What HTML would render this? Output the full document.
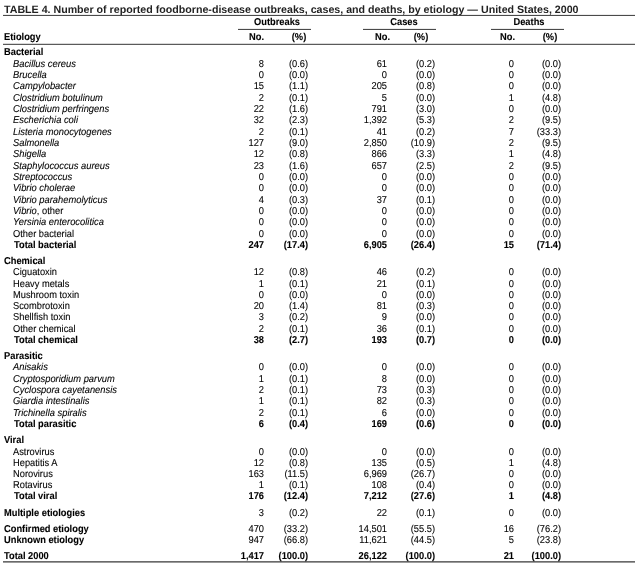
<!DOCTYPE html>
<html><head><meta charset="utf-8"><style>
html,body{margin:0;padding:0;background:#fff;width:640px;height:573px;overflow:hidden;position:relative}
body{font-family:"Liberation Sans",sans-serif;color:#000}
.t{position:absolute;z-index:2;white-space:nowrap;font-size:10.0px;line-height:10.0px;height:10.0px;transform:scaleX(0.93);transform-origin:0 0;text-rendering:geometricPrecision;-webkit-text-stroke:0.1px #000}
.n{transform-origin:100% 0}
.c{transform-origin:50% 0}
.n{text-align:right}
.bd{font-weight:bold;transform:scaleX(0.9300)}
.it{transform:scaleX(0.9350)}
.ln{position:absolute;background:#4a4a4a;height:1px}
.lf{position:absolute;background:#ececec;height:1px}
#w{position:absolute;left:0;top:0;width:640px;height:573px;will-change:transform}
</style></head><body><div id="w">

<div class="t bd" style="left:4px;top:4.58px;font-size:10.65px;line-height:10.65px;transform:none;-webkit-text-stroke:0;color:#222">TABLE 4. Number of reported foodborne-disease outbreaks, cases, and deaths, by etiology — United States, 2000</div>
<div class="lf" style="left:3px;top:14px;width:632px"></div>
<div class="ln" style="left:3px;top:15px;width:632px"></div>
<div class="t bd c" style="left:226.80px;width:100px;text-align:center;top:18.00px">Outbreaks</div>
<div class="t bd c" style="left:354.00px;width:100px;text-align:center;top:18.00px">Cases</div>
<div class="t bd c" style="left:479.20px;width:100px;text-align:center;top:18.00px">Deaths</div>
<div class="lf" style="left:238px;top:28px;width:73px"></div>
<div class="ln" style="left:238px;top:29px;width:73px"></div>
<div class="lf" style="left:363px;top:28px;width:73px"></div>
<div class="ln" style="left:363px;top:29px;width:73px"></div>
<div class="lf" style="left:491px;top:28px;width:73px"></div>
<div class="ln" style="left:491px;top:29px;width:73px"></div>
<div class="t bd" style="left:4px;top:33.00px">Etiology</div>
<div class="t bd n" style="left:204.30px;width:60px;top:33.00px">No.</div>
<div class="t bd n" style="left:330.00px;width:60px;top:33.00px">No.</div>
<div class="t bd n" style="left:455.30px;width:60px;top:33.00px">No.</div>
<div class="t bd c" style="left:268.50px;width:60px;text-align:center;top:33.00px">(%)</div>
<div class="t bd c" style="left:391.40px;width:60px;text-align:center;top:33.00px">(%)</div>
<div class="t bd c" style="left:520.30px;width:60px;text-align:center;top:33.00px">(%)</div>
<div class="lf" style="left:3px;top:43px;width:632px;background:#d8d8d8"></div>
<div class="ln" style="left:3px;top:44px;width:632px;background:#5a5a5a"></div>
<div class="t bd" style="left:4px;top:48.00px">Bacterial</div>
<div class="t it" style="left:13px;top:59.70px"><i>Bacillus cereus</i></div>
<div class="t n" style="left:184.30px;width:80px;top:59.70px">8</div>
<div class="t n" style="left:227.50px;width:80px;top:59.70px">(0.6)</div>
<div class="t n" style="left:307.00px;width:80px;top:59.70px">61</div>
<div class="t n" style="left:355.00px;width:80px;top:59.70px">(0.2)</div>
<div class="t n" style="left:434.00px;width:80px;top:59.70px">0</div>
<div class="t n" style="left:481.20px;width:80px;top:59.70px">(0.0)</div>
<div class="t it" style="left:13px;top:71.03px"><i>Brucella</i></div>
<div class="t n" style="left:184.30px;width:80px;top:71.03px">0</div>
<div class="t n" style="left:227.50px;width:80px;top:71.03px">(0.0)</div>
<div class="t n" style="left:307.00px;width:80px;top:71.03px">0</div>
<div class="t n" style="left:355.00px;width:80px;top:71.03px">(0.0)</div>
<div class="t n" style="left:434.00px;width:80px;top:71.03px">0</div>
<div class="t n" style="left:481.20px;width:80px;top:71.03px">(0.0)</div>
<div class="t it" style="left:13px;top:82.36px"><i>Campylobacter</i></div>
<div class="t n" style="left:184.30px;width:80px;top:82.36px">15</div>
<div class="t n" style="left:227.50px;width:80px;top:82.36px">(1.1)</div>
<div class="t n" style="left:307.00px;width:80px;top:82.36px">205</div>
<div class="t n" style="left:355.00px;width:80px;top:82.36px">(0.8)</div>
<div class="t n" style="left:434.00px;width:80px;top:82.36px">0</div>
<div class="t n" style="left:481.20px;width:80px;top:82.36px">(0.0)</div>
<div class="t it" style="left:13px;top:93.69px"><i>Clostridium botulinum</i></div>
<div class="t n" style="left:184.30px;width:80px;top:93.69px">2</div>
<div class="t n" style="left:227.50px;width:80px;top:93.69px">(0.1)</div>
<div class="t n" style="left:307.00px;width:80px;top:93.69px">5</div>
<div class="t n" style="left:355.00px;width:80px;top:93.69px">(0.0)</div>
<div class="t n" style="left:434.00px;width:80px;top:93.69px">1</div>
<div class="t n" style="left:481.20px;width:80px;top:93.69px">(4.8)</div>
<div class="t it" style="left:13px;top:105.02px"><i>Clostridium perfringens</i></div>
<div class="t n" style="left:184.30px;width:80px;top:105.02px">22</div>
<div class="t n" style="left:227.50px;width:80px;top:105.02px">(1.6)</div>
<div class="t n" style="left:307.00px;width:80px;top:105.02px">791</div>
<div class="t n" style="left:355.00px;width:80px;top:105.02px">(3.0)</div>
<div class="t n" style="left:434.00px;width:80px;top:105.02px">0</div>
<div class="t n" style="left:481.20px;width:80px;top:105.02px">(0.0)</div>
<div class="t it" style="left:13px;top:116.35px"><i>Escherichia coli</i></div>
<div class="t n" style="left:184.30px;width:80px;top:116.35px">32</div>
<div class="t n" style="left:227.50px;width:80px;top:116.35px">(2.3)</div>
<div class="t n" style="left:307.00px;width:80px;top:116.35px">1,392</div>
<div class="t n" style="left:355.00px;width:80px;top:116.35px">(5.3)</div>
<div class="t n" style="left:434.00px;width:80px;top:116.35px">2</div>
<div class="t n" style="left:481.20px;width:80px;top:116.35px">(9.5)</div>
<div class="t it" style="left:13px;top:127.68px"><i>Listeria monocytogenes</i></div>
<div class="t n" style="left:184.30px;width:80px;top:127.68px">2</div>
<div class="t n" style="left:227.50px;width:80px;top:127.68px">(0.1)</div>
<div class="t n" style="left:307.00px;width:80px;top:127.68px">41</div>
<div class="t n" style="left:355.00px;width:80px;top:127.68px">(0.2)</div>
<div class="t n" style="left:434.00px;width:80px;top:127.68px">7</div>
<div class="t n" style="left:481.20px;width:80px;top:127.68px">(33.3)</div>
<div class="t it" style="left:13px;top:139.01px"><i>Salmonella</i></div>
<div class="t n" style="left:184.30px;width:80px;top:139.01px">127</div>
<div class="t n" style="left:227.50px;width:80px;top:139.01px">(9.0)</div>
<div class="t n" style="left:307.00px;width:80px;top:139.01px">2,850</div>
<div class="t n" style="left:355.00px;width:80px;top:139.01px">(10.9)</div>
<div class="t n" style="left:434.00px;width:80px;top:139.01px">2</div>
<div class="t n" style="left:481.20px;width:80px;top:139.01px">(9.5)</div>
<div class="t it" style="left:13px;top:150.34px"><i>Shigella</i></div>
<div class="t n" style="left:184.30px;width:80px;top:150.34px">12</div>
<div class="t n" style="left:227.50px;width:80px;top:150.34px">(0.8)</div>
<div class="t n" style="left:307.00px;width:80px;top:150.34px">866</div>
<div class="t n" style="left:355.00px;width:80px;top:150.34px">(3.3)</div>
<div class="t n" style="left:434.00px;width:80px;top:150.34px">1</div>
<div class="t n" style="left:481.20px;width:80px;top:150.34px">(4.8)</div>
<div class="t it" style="left:13px;top:161.67px"><i>Staphylococcus aureus</i></div>
<div class="t n" style="left:184.30px;width:80px;top:161.67px">23</div>
<div class="t n" style="left:227.50px;width:80px;top:161.67px">(1.6)</div>
<div class="t n" style="left:307.00px;width:80px;top:161.67px">657</div>
<div class="t n" style="left:355.00px;width:80px;top:161.67px">(2.5)</div>
<div class="t n" style="left:434.00px;width:80px;top:161.67px">2</div>
<div class="t n" style="left:481.20px;width:80px;top:161.67px">(9.5)</div>
<div class="t it" style="left:13px;top:173.00px"><i>Streptococcus</i></div>
<div class="t n" style="left:184.30px;width:80px;top:173.00px">0</div>
<div class="t n" style="left:227.50px;width:80px;top:173.00px">(0.0)</div>
<div class="t n" style="left:307.00px;width:80px;top:173.00px">0</div>
<div class="t n" style="left:355.00px;width:80px;top:173.00px">(0.0)</div>
<div class="t n" style="left:434.00px;width:80px;top:173.00px">0</div>
<div class="t n" style="left:481.20px;width:80px;top:173.00px">(0.0)</div>
<div class="t it" style="left:13px;top:184.33px"><i>Vibrio cholerae</i></div>
<div class="t n" style="left:184.30px;width:80px;top:184.33px">0</div>
<div class="t n" style="left:227.50px;width:80px;top:184.33px">(0.0)</div>
<div class="t n" style="left:307.00px;width:80px;top:184.33px">0</div>
<div class="t n" style="left:355.00px;width:80px;top:184.33px">(0.0)</div>
<div class="t n" style="left:434.00px;width:80px;top:184.33px">0</div>
<div class="t n" style="left:481.20px;width:80px;top:184.33px">(0.0)</div>
<div class="t it" style="left:13px;top:195.66px"><i>Vibrio parahemolyticus</i></div>
<div class="t n" style="left:184.30px;width:80px;top:195.66px">4</div>
<div class="t n" style="left:227.50px;width:80px;top:195.66px">(0.3)</div>
<div class="t n" style="left:307.00px;width:80px;top:195.66px">37</div>
<div class="t n" style="left:355.00px;width:80px;top:195.66px">(0.1)</div>
<div class="t n" style="left:434.00px;width:80px;top:195.66px">0</div>
<div class="t n" style="left:481.20px;width:80px;top:195.66px">(0.0)</div>
<div class="t it" style="left:13px;top:206.99px"><i>Vibrio</i>, other</div>
<div class="t n" style="left:184.30px;width:80px;top:206.99px">0</div>
<div class="t n" style="left:227.50px;width:80px;top:206.99px">(0.0)</div>
<div class="t n" style="left:307.00px;width:80px;top:206.99px">0</div>
<div class="t n" style="left:355.00px;width:80px;top:206.99px">(0.0)</div>
<div class="t n" style="left:434.00px;width:80px;top:206.99px">0</div>
<div class="t n" style="left:481.20px;width:80px;top:206.99px">(0.0)</div>
<div class="t it" style="left:13px;top:218.32px"><i>Yersinia enterocolitica</i></div>
<div class="t n" style="left:184.30px;width:80px;top:218.32px">0</div>
<div class="t n" style="left:227.50px;width:80px;top:218.32px">(0.0)</div>
<div class="t n" style="left:307.00px;width:80px;top:218.32px">0</div>
<div class="t n" style="left:355.00px;width:80px;top:218.32px">(0.0)</div>
<div class="t n" style="left:434.00px;width:80px;top:218.32px">0</div>
<div class="t n" style="left:481.20px;width:80px;top:218.32px">(0.0)</div>
<div class="t" style="left:13px;top:229.65px">Other bacterial</div>
<div class="t n" style="left:184.30px;width:80px;top:229.65px">0</div>
<div class="t n" style="left:227.50px;width:80px;top:229.65px">(0.0)</div>
<div class="t n" style="left:307.00px;width:80px;top:229.65px">0</div>
<div class="t n" style="left:355.00px;width:80px;top:229.65px">(0.0)</div>
<div class="t n" style="left:434.00px;width:80px;top:229.65px">0</div>
<div class="t n" style="left:481.20px;width:80px;top:229.65px">(0.0)</div>
<div class="t bd" style="left:13.5px;top:240.98px">Total bacterial</div>
<div class="t n bd" style="left:184.30px;width:80px;top:240.98px">247</div>
<div class="t n bd" style="left:227.50px;width:80px;top:240.98px">(17.4)</div>
<div class="t n bd" style="left:307.00px;width:80px;top:240.98px">6,905</div>
<div class="t n bd" style="left:355.00px;width:80px;top:240.98px">(26.4)</div>
<div class="t n bd" style="left:434.00px;width:80px;top:240.98px">15</div>
<div class="t n bd" style="left:481.20px;width:80px;top:240.98px">(71.4)</div>
<div class="t bd" style="left:4px;top:257.00px">Chemical</div>
<div class="t" style="left:13px;top:268.30px">Ciguatoxin</div>
<div class="t n" style="left:184.30px;width:80px;top:268.30px">12</div>
<div class="t n" style="left:227.50px;width:80px;top:268.30px">(0.8)</div>
<div class="t n" style="left:307.00px;width:80px;top:268.30px">46</div>
<div class="t n" style="left:355.00px;width:80px;top:268.30px">(0.2)</div>
<div class="t n" style="left:434.00px;width:80px;top:268.30px">0</div>
<div class="t n" style="left:481.20px;width:80px;top:268.30px">(0.0)</div>
<div class="t" style="left:13px;top:279.59px">Heavy metals</div>
<div class="t n" style="left:184.30px;width:80px;top:279.59px">1</div>
<div class="t n" style="left:227.50px;width:80px;top:279.59px">(0.1)</div>
<div class="t n" style="left:307.00px;width:80px;top:279.59px">21</div>
<div class="t n" style="left:355.00px;width:80px;top:279.59px">(0.1)</div>
<div class="t n" style="left:434.00px;width:80px;top:279.59px">0</div>
<div class="t n" style="left:481.20px;width:80px;top:279.59px">(0.0)</div>
<div class="t" style="left:13px;top:290.88px">Mushroom toxin</div>
<div class="t n" style="left:184.30px;width:80px;top:290.88px">0</div>
<div class="t n" style="left:227.50px;width:80px;top:290.88px">(0.0)</div>
<div class="t n" style="left:307.00px;width:80px;top:290.88px">0</div>
<div class="t n" style="left:355.00px;width:80px;top:290.88px">(0.0)</div>
<div class="t n" style="left:434.00px;width:80px;top:290.88px">0</div>
<div class="t n" style="left:481.20px;width:80px;top:290.88px">(0.0)</div>
<div class="t" style="left:13px;top:302.17px">Scombrotoxin</div>
<div class="t n" style="left:184.30px;width:80px;top:302.17px">20</div>
<div class="t n" style="left:227.50px;width:80px;top:302.17px">(1.4)</div>
<div class="t n" style="left:307.00px;width:80px;top:302.17px">81</div>
<div class="t n" style="left:355.00px;width:80px;top:302.17px">(0.3)</div>
<div class="t n" style="left:434.00px;width:80px;top:302.17px">0</div>
<div class="t n" style="left:481.20px;width:80px;top:302.17px">(0.0)</div>
<div class="t" style="left:13px;top:313.46px">Shellfish toxin</div>
<div class="t n" style="left:184.30px;width:80px;top:313.46px">3</div>
<div class="t n" style="left:227.50px;width:80px;top:313.46px">(0.2)</div>
<div class="t n" style="left:307.00px;width:80px;top:313.46px">9</div>
<div class="t n" style="left:355.00px;width:80px;top:313.46px">(0.0)</div>
<div class="t n" style="left:434.00px;width:80px;top:313.46px">0</div>
<div class="t n" style="left:481.20px;width:80px;top:313.46px">(0.0)</div>
<div class="t" style="left:13px;top:324.75px">Other chemical</div>
<div class="t n" style="left:184.30px;width:80px;top:324.75px">2</div>
<div class="t n" style="left:227.50px;width:80px;top:324.75px">(0.1)</div>
<div class="t n" style="left:307.00px;width:80px;top:324.75px">36</div>
<div class="t n" style="left:355.00px;width:80px;top:324.75px">(0.1)</div>
<div class="t n" style="left:434.00px;width:80px;top:324.75px">0</div>
<div class="t n" style="left:481.20px;width:80px;top:324.75px">(0.0)</div>
<div class="t bd" style="left:13.5px;top:336.04px">Total chemical</div>
<div class="t n bd" style="left:184.30px;width:80px;top:336.04px">38</div>
<div class="t n bd" style="left:227.50px;width:80px;top:336.04px">(2.7)</div>
<div class="t n bd" style="left:307.00px;width:80px;top:336.04px">193</div>
<div class="t n bd" style="left:355.00px;width:80px;top:336.04px">(0.7)</div>
<div class="t n bd" style="left:434.00px;width:80px;top:336.04px">0</div>
<div class="t n bd" style="left:481.20px;width:80px;top:336.04px">(0.0)</div>
<div class="t bd" style="left:4px;top:352.00px">Parasitic</div>
<div class="t it" style="left:13px;top:363.30px"><i>Anisakis</i></div>
<div class="t n" style="left:184.30px;width:80px;top:363.30px">0</div>
<div class="t n" style="left:227.50px;width:80px;top:363.30px">(0.0)</div>
<div class="t n" style="left:307.00px;width:80px;top:363.30px">0</div>
<div class="t n" style="left:355.00px;width:80px;top:363.30px">(0.0)</div>
<div class="t n" style="left:434.00px;width:80px;top:363.30px">0</div>
<div class="t n" style="left:481.20px;width:80px;top:363.30px">(0.0)</div>
<div class="t it" style="left:13px;top:374.63px"><i>Cryptosporidium parvum</i></div>
<div class="t n" style="left:184.30px;width:80px;top:374.63px">1</div>
<div class="t n" style="left:227.50px;width:80px;top:374.63px">(0.1)</div>
<div class="t n" style="left:307.00px;width:80px;top:374.63px">8</div>
<div class="t n" style="left:355.00px;width:80px;top:374.63px">(0.0)</div>
<div class="t n" style="left:434.00px;width:80px;top:374.63px">0</div>
<div class="t n" style="left:481.20px;width:80px;top:374.63px">(0.0)</div>
<div class="t it" style="left:13px;top:385.96px"><i>Cyclospora cayetanensis</i></div>
<div class="t n" style="left:184.30px;width:80px;top:385.96px">2</div>
<div class="t n" style="left:227.50px;width:80px;top:385.96px">(0.1)</div>
<div class="t n" style="left:307.00px;width:80px;top:385.96px">73</div>
<div class="t n" style="left:355.00px;width:80px;top:385.96px">(0.3)</div>
<div class="t n" style="left:434.00px;width:80px;top:385.96px">0</div>
<div class="t n" style="left:481.20px;width:80px;top:385.96px">(0.0)</div>
<div class="t it" style="left:13px;top:397.29px"><i>Giardia intestinalis</i></div>
<div class="t n" style="left:184.30px;width:80px;top:397.29px">1</div>
<div class="t n" style="left:227.50px;width:80px;top:397.29px">(0.1)</div>
<div class="t n" style="left:307.00px;width:80px;top:397.29px">82</div>
<div class="t n" style="left:355.00px;width:80px;top:397.29px">(0.3)</div>
<div class="t n" style="left:434.00px;width:80px;top:397.29px">0</div>
<div class="t n" style="left:481.20px;width:80px;top:397.29px">(0.0)</div>
<div class="t it" style="left:13px;top:408.62px"><i>Trichinella spiralis</i></div>
<div class="t n" style="left:184.30px;width:80px;top:408.62px">2</div>
<div class="t n" style="left:227.50px;width:80px;top:408.62px">(0.1)</div>
<div class="t n" style="left:307.00px;width:80px;top:408.62px">6</div>
<div class="t n" style="left:355.00px;width:80px;top:408.62px">(0.0)</div>
<div class="t n" style="left:434.00px;width:80px;top:408.62px">0</div>
<div class="t n" style="left:481.20px;width:80px;top:408.62px">(0.0)</div>
<div class="t bd" style="left:13.5px;top:419.95px">Total parasitic</div>
<div class="t n bd" style="left:184.30px;width:80px;top:419.95px">6</div>
<div class="t n bd" style="left:227.50px;width:80px;top:419.95px">(0.4)</div>
<div class="t n bd" style="left:307.00px;width:80px;top:419.95px">169</div>
<div class="t n bd" style="left:355.00px;width:80px;top:419.95px">(0.6)</div>
<div class="t n bd" style="left:434.00px;width:80px;top:419.95px">0</div>
<div class="t n bd" style="left:481.20px;width:80px;top:419.95px">(0.0)</div>
<div class="t bd" style="left:4px;top:436.00px">Viral</div>
<div class="t" style="left:13px;top:447.90px">Astrovirus</div>
<div class="t n" style="left:184.30px;width:80px;top:447.90px">0</div>
<div class="t n" style="left:227.50px;width:80px;top:447.90px">(0.0)</div>
<div class="t n" style="left:307.00px;width:80px;top:447.90px">0</div>
<div class="t n" style="left:355.00px;width:80px;top:447.90px">(0.0)</div>
<div class="t n" style="left:434.00px;width:80px;top:447.90px">0</div>
<div class="t n" style="left:481.20px;width:80px;top:447.90px">(0.0)</div>
<div class="t" style="left:13px;top:458.95px">Hepatitis A</div>
<div class="t n" style="left:184.30px;width:80px;top:458.95px">12</div>
<div class="t n" style="left:227.50px;width:80px;top:458.95px">(0.8)</div>
<div class="t n" style="left:307.00px;width:80px;top:458.95px">135</div>
<div class="t n" style="left:355.00px;width:80px;top:458.95px">(0.5)</div>
<div class="t n" style="left:434.00px;width:80px;top:458.95px">1</div>
<div class="t n" style="left:481.20px;width:80px;top:458.95px">(4.8)</div>
<div class="t" style="left:13px;top:470.00px">Norovirus</div>
<div class="t n" style="left:184.30px;width:80px;top:470.00px">163</div>
<div class="t n" style="left:227.50px;width:80px;top:470.00px">(11.5)</div>
<div class="t n" style="left:307.00px;width:80px;top:470.00px">6,969</div>
<div class="t n" style="left:355.00px;width:80px;top:470.00px">(26.7)</div>
<div class="t n" style="left:434.00px;width:80px;top:470.00px">0</div>
<div class="t n" style="left:481.20px;width:80px;top:470.00px">(0.0)</div>
<div class="t" style="left:13px;top:481.05px">Rotavirus</div>
<div class="t n" style="left:184.30px;width:80px;top:481.05px">1</div>
<div class="t n" style="left:227.50px;width:80px;top:481.05px">(0.1)</div>
<div class="t n" style="left:307.00px;width:80px;top:481.05px">108</div>
<div class="t n" style="left:355.00px;width:80px;top:481.05px">(0.4)</div>
<div class="t n" style="left:434.00px;width:80px;top:481.05px">0</div>
<div class="t n" style="left:481.20px;width:80px;top:481.05px">(0.0)</div>
<div class="t bd" style="left:13.5px;top:492.10px">Total viral</div>
<div class="t n bd" style="left:184.30px;width:80px;top:492.10px">176</div>
<div class="t n bd" style="left:227.50px;width:80px;top:492.10px">(12.4)</div>
<div class="t n bd" style="left:307.00px;width:80px;top:492.10px">7,212</div>
<div class="t n bd" style="left:355.00px;width:80px;top:492.10px">(27.6)</div>
<div class="t n bd" style="left:434.00px;width:80px;top:492.10px">1</div>
<div class="t n bd" style="left:481.20px;width:80px;top:492.10px">(4.8)</div>
<div class="t bd" style="left:4px;top:509.00px">Multiple etiologies</div>
<div class="t n" style="left:184.30px;width:80px;top:509.00px">3</div>
<div class="t n" style="left:227.50px;width:80px;top:509.00px">(0.2)</div>
<div class="t n" style="left:307.00px;width:80px;top:509.00px">22</div>
<div class="t n" style="left:355.00px;width:80px;top:509.00px">(0.1)</div>
<div class="t n" style="left:434.00px;width:80px;top:509.00px">0</div>
<div class="t n" style="left:481.20px;width:80px;top:509.00px">(0.0)</div>
<div class="t bd" style="left:4px;top:524.60px">Confirmed etiology</div>
<div class="t n" style="left:184.30px;width:80px;top:524.60px">470</div>
<div class="t n" style="left:227.50px;width:80px;top:524.60px">(33.2)</div>
<div class="t n" style="left:307.00px;width:80px;top:524.60px">14,501</div>
<div class="t n" style="left:355.00px;width:80px;top:524.60px">(55.5)</div>
<div class="t n" style="left:434.00px;width:80px;top:524.60px">16</div>
<div class="t n" style="left:481.20px;width:80px;top:524.60px">(76.2)</div>
<div class="t bd" style="left:4px;top:536.00px">Unknown etiology</div>
<div class="t n" style="left:184.30px;width:80px;top:536.00px">947</div>
<div class="t n" style="left:227.50px;width:80px;top:536.00px">(66.8)</div>
<div class="t n" style="left:307.00px;width:80px;top:536.00px">11,621</div>
<div class="t n" style="left:355.00px;width:80px;top:536.00px">(44.5)</div>
<div class="t n" style="left:434.00px;width:80px;top:536.00px">5</div>
<div class="t n" style="left:481.20px;width:80px;top:536.00px">(23.8)</div>
<div class="t bd" style="left:4px;top:552.00px">Total 2000</div>
<div class="t n bd" style="left:184.30px;width:80px;top:552.00px">1,417</div>
<div class="t n bd" style="left:227.50px;width:80px;top:552.00px">(100.0)</div>
<div class="t n bd" style="left:307.00px;width:80px;top:552.00px">26,122</div>
<div class="t n bd" style="left:355.00px;width:80px;top:552.00px">(100.0)</div>
<div class="t n bd" style="left:434.00px;width:80px;top:552.00px">21</div>
<div class="t n bd" style="left:481.20px;width:80px;top:552.00px">(100.0)</div>
<div class="ln" style="left:3px;top:561px;width:632px;background:#6a6a6a"></div>
<div class="ln" style="left:3px;top:562px;width:632px;background:#9a9a9a"></div>
</div></body></html>
